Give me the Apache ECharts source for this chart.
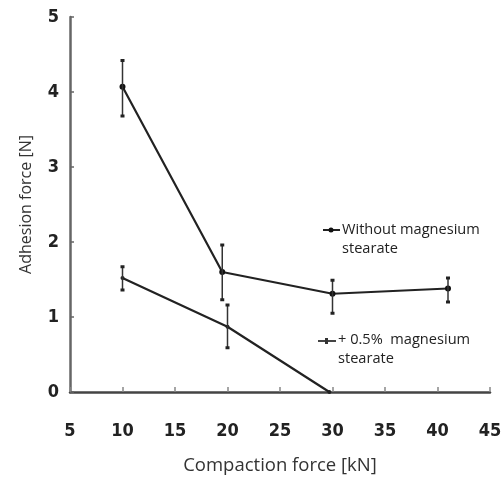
<!DOCTYPE html>
<html>
<head>
<meta charset="utf-8">
<script src="https://cdn.jsdelivr.net/npm/echarts@6/dist/echarts.min.js"></script>
<style>
  html, body { margin: 0; padding: 0; background: #fff; }
  #chart { width: 501px; height: 477px; }
</style>
</head>
<body>
<div id="chart"></div>
<script>
// Compaction force [kN] for each measurement
var forceWithout = [10, 19.5, 30, 41];
var forceWith = [10, 20, 29.7];
// Mean adhesion force [N]
var adhesionWithout = [4.07, 1.6, 1.31, 1.38];
var adhesionWith = [1.52, 0.87, 0];
// Error bar limits [N]
var lowWithout = [3.68, 1.23, 1.05, 1.2];
var highWithout = [4.42, 1.96, 1.49, 1.52];
var lowWith = [1.36, 0.59, 0];
var highWith = [1.67, 1.16, 0];

var seriesNames = ['Without magnesium stearate', '+ 0.5% magnesium stearate'];

function pairs(xs, ys) {
  return xs.map(function (x, i) { return [x, ys[i]]; });
}
function errRows(xs, lo, hi) {
  return xs.map(function (x, i) { return [x, lo[i], hi[i]]; });
}

function renderError(params, api) {
  var lo = api.value(1), hi = api.value(2);
  if (hi - lo < 1e-6) return null;
  var top = api.coord([api.value(0), hi]);
  var bot = api.coord([api.value(0), lo]);
  var style = { stroke: '#333', lineWidth: 1.5 };
  return {
    type: 'group',
    children: [
      { type: 'line', shape: { x1: top[0], y1: top[1], x2: bot[0], y2: bot[1] }, style: style },
      { type: 'rect', shape: { x: top[0] - 2, y: top[1] - 1.5, width: 4, height: 3 }, style: { fill: '#222' } },
      { type: 'rect', shape: { x: bot[0] - 2, y: bot[1] - 1.5, width: 4, height: 3 }, style: { fill: '#222' } }
    ]
  };
}

var tickFont = {
  fontFamily: '"Liberation Sans Narrow", "DejaVu Sans Condensed", sans-serif',
  fontWeight: 'bold',
  fontSize: 18,
  color: '#222'
};

var chart = echarts.init(document.getElementById('chart'), null, { renderer: 'canvas' });
chart.setOption({
  animation: false,
  backgroundColor: '#fff',
  grid: { left: 70, right: 11, top: 17, bottom: 85, containLabel: false, outerBoundsMode: 'none' },
  xAxis: {
    type: 'value', min: 5, max: 45, interval: 5,
    name: 'Compaction force [kN]', nameLocation: 'middle', nameGap: 64,
    nameTextStyle: { fontFamily: '"Open Sans", sans-serif', fontSize: 18.5, color: '#333' },
    axisLine: { lineStyle: { color: '#444', width: 2.5 } },
    axisTick: { inside: true, length: 5, lineStyle: { color: '#888', width: 1.5 } },
    axisLabel: Object.assign({ margin: 30 }, tickFont),
    splitLine: { show: false }
  },
  yAxis: {
    type: 'value', min: 0, max: 5, interval: 1,
    name: 'Adhesion force [N]', nameLocation: 'middle', nameGap: 36,
    nameTextStyle: { fontFamily: '"Open Sans", sans-serif', fontSize: 16, color: '#333' },
    axisLine: { show: true, lineStyle: { color: '#666', width: 2.5 } },
    axisTick: { show: true, inside: true, length: 4, lineStyle: { color: '#666', width: 1.5 } },
    axisLabel: Object.assign({ margin: 11 }, tickFont),
    splitLine: { show: false }
  },
  graphic: [
    { type: 'line', shape: { x1: 323, y1: 230, x2: 340, y2: 230 }, style: { stroke: '#222', lineWidth: 2 } },
    { type: 'circle', shape: { cx: 331, cy: 230, r: 2.5 }, style: { fill: '#111' } },
    { type: 'text', left: 342, top: 220, style: { text: 'Without magnesium\nstearate', fontFamily: '"Open Sans", sans-serif', fontSize: 14.6, lineHeight: 19, fill: '#222' } },
    { type: 'line', shape: { x1: 318, y1: 341, x2: 336, y2: 341 }, style: { stroke: '#444', lineWidth: 2 } },
    { type: 'rect', shape: { x: 325, y: 338, width: 3, height: 6 }, style: { fill: '#333' } },
    { type: 'text', left: 338, top: 330, style: { text: '+ 0.5%  magnesium\nstearate', fontFamily: '"Open Sans", sans-serif', fontSize: 14.6, lineHeight: 19, fill: '#222' } }
  ],
  series: [
    {
      name: seriesNames[0], type: 'line', data: pairs(forceWithout, adhesionWithout),
      symbol: 'circle', symbolSize: 6, itemStyle: { color: '#111' },
      lineStyle: { color: '#222', width: 2.2 }, z: 3
    },
    {
      name: seriesNames[1], type: 'line', data: pairs(forceWith, adhesionWith),
      symbol: 'circle', symbolSize: 4, itemStyle: { color: '#222' },
      lineStyle: { color: '#222', width: 2.2 }, z: 3
    },
    { type: 'custom', renderItem: renderError, data: errRows(forceWithout, lowWithout, highWithout), encode: { x: 0, y: [1, 2] }, z: 4 },
    { type: 'custom', renderItem: renderError, data: errRows(forceWith, lowWith, highWith), encode: { x: 0, y: [1, 2] }, z: 4 }
  ]
});
</script>
</body>
</html>
